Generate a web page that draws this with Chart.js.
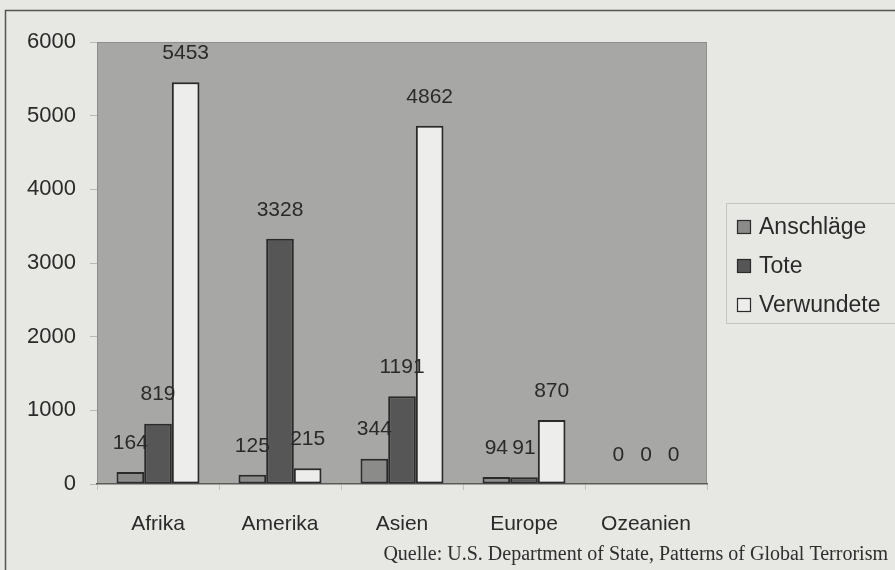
<!DOCTYPE html>
<html>
<head>
<meta charset="utf-8">
<script src="https://cdn.jsdelivr.net/npm/chart.js@4/dist/chart.umd.min.js"></script>
<style>
  html, body { margin: 0; padding: 0; background: #e7e7e3; }
  #wrap { position: absolute; left: 0; top: 0; width: 895px; height: 570px; }
</style>
</head>
<body>
<div id="wrap"><canvas id="chart" width="895" height="570"></canvas></div>
<script>
const regions = ['Afrika', 'Amerika', 'Asien', 'Europe', 'Ozeanien'];
const anschlaege = [164, 125, 344, 94, 0];
const tote = [819, 3328, 1191, 91, 0];
const verwundete = [5453, 215, 4862, 870, 0];
const yTicks = [0, 1000, 2000, 3000, 4000, 5000, 6000];
const source = 'Quelle: U.S. Department of State, Patterns of Global Terrorism';

const FONT = '"Liberation Sans", Arial, sans-serif';

// page background, outer frame, plot area fill
const backdrop = {
  id: 'backdrop',
  beforeDraw(chart) {
    const { ctx, chartArea: a } = chart;
    ctx.save();
    ctx.fillStyle = '#e7e7e3';
    ctx.fillRect(0, 0, chart.width, chart.height);
    ctx.strokeStyle = '#555';
    ctx.lineWidth = 1.5;
    ctx.beginPath();
    ctx.moveTo(5.5, chart.height);
    ctx.lineTo(5.5, 10.5);
    ctx.lineTo(chart.width, 10.5);
    ctx.stroke();
    ctx.fillStyle = '#a7a7a5';
    ctx.fillRect(a.left, a.top, a.right - a.left, a.bottom - a.top);
    ctx.strokeStyle = '#8e8e8c';
    ctx.lineWidth = 1;
    ctx.strokeRect(a.left + 0.5, a.top + 0.5, a.right - a.left - 1, a.bottom - a.top - 1);
    ctx.restore();
  }
};

// value labels above bars, legend box, source line
const extras = {
  id: 'extras',
  afterDatasetsDraw(chart) {
    const { ctx } = chart;
    ctx.save();
    ctx.font = '21px ' + FONT;
    ctx.fillStyle = '#2a2a2a';
    ctx.textAlign = 'center';
    ctx.textBaseline = 'middle';
    chart.data.datasets.forEach((ds, i) => {
      chart.getDatasetMeta(i).data.forEach((bar, j) => {
        ctx.fillText(String(ds.data[j]), bar.x, bar.y - 29);
      });
    });

    // legend
    ctx.strokeStyle = '#c4c4c0';
    ctx.lineWidth = 1;
    ctx.strokeRect(726.5, 203.5, 175, 120);
    ctx.textAlign = 'left';
    ctx.font = '23px ' + FONT;
    chart.data.datasets.forEach((ds, i) => {
      const y = 227 + i * 39;
      ctx.fillStyle = ds.backgroundColor;
      ctx.fillRect(737, y - 7, 14, 14);
      ctx.strokeStyle = '#2a2a2a';
      ctx.lineWidth = 1.2;
      ctx.strokeRect(737.5, y - 6.5, 13, 13);
      ctx.fillStyle = '#2a2a2a';
      ctx.fillText(ds.label, 759, y + 1);
    });

    // source
    ctx.font = '20px "Liberation Serif", "DejaVu Serif", serif';
    ctx.textAlign = 'right';
    ctx.textBaseline = 'alphabetic';
    ctx.fillStyle = '#2e2e2e';
    ctx.fillText(source, 888, 560);
    ctx.restore();
  }
};

new Chart(document.getElementById('chart'), {
  type: 'bar',
  data: {
    labels: regions,
    datasets: [
      { label: 'Anschläge', data: anschlaege, backgroundColor: '#8b8b89' },
      { label: 'Tote', data: tote, backgroundColor: '#565656' },
      { label: 'Verwundete', data: verwundete, backgroundColor: '#ededeb' }
    ]
  },
  options: {
    responsive: false,
    animation: false,
    events: [],
    layout: { padding: { left: 0, right: 188, top: 42, bottom: 0 } },
    datasets: {
      bar: {
        categoryPercentage: 0.68,
        barPercentage: 1,
        borderColor: '#2a2a2a',
        borderWidth: 2,
        borderSkipped: false
      }
    },
    plugins: {
      legend: { display: false },
      tooltip: { enabled: false }
    },
    scales: {
      x: {
        offset: true,
        afterFit(scale) { scale.height = 86; },
        grid: {
          display: true,
          drawOnChartArea: false,
          offset: true,
          color: '#c2c2be',
          tickLength: 6
        },
        border: { color: '#5a5a58', width: 1.5 },
        ticks: {
          font: { family: FONT, size: 21 },
          color: '#2a2a2a',
          padding: 22
        }
      },
      y: {
        min: 0,
        max: 6000,
        afterFit(scale) { scale.width = 97; },
        afterBuildTicks(scale) { scale.ticks = yTicks.map(v => ({ value: v })); },
        grid: {
          display: true,
          drawOnChartArea: false,
          color: '#b8b8b4',
          tickLength: 7
        },
        border: { display: false },
        ticks: {
          font: { family: FONT, size: 22 },
          color: '#2a2a2a',
          padding: 14,
          callback: (v) => String(v)
        }
      }
    }
  },
  plugins: [backdrop, extras]
});
</script>
</body>
</html>
